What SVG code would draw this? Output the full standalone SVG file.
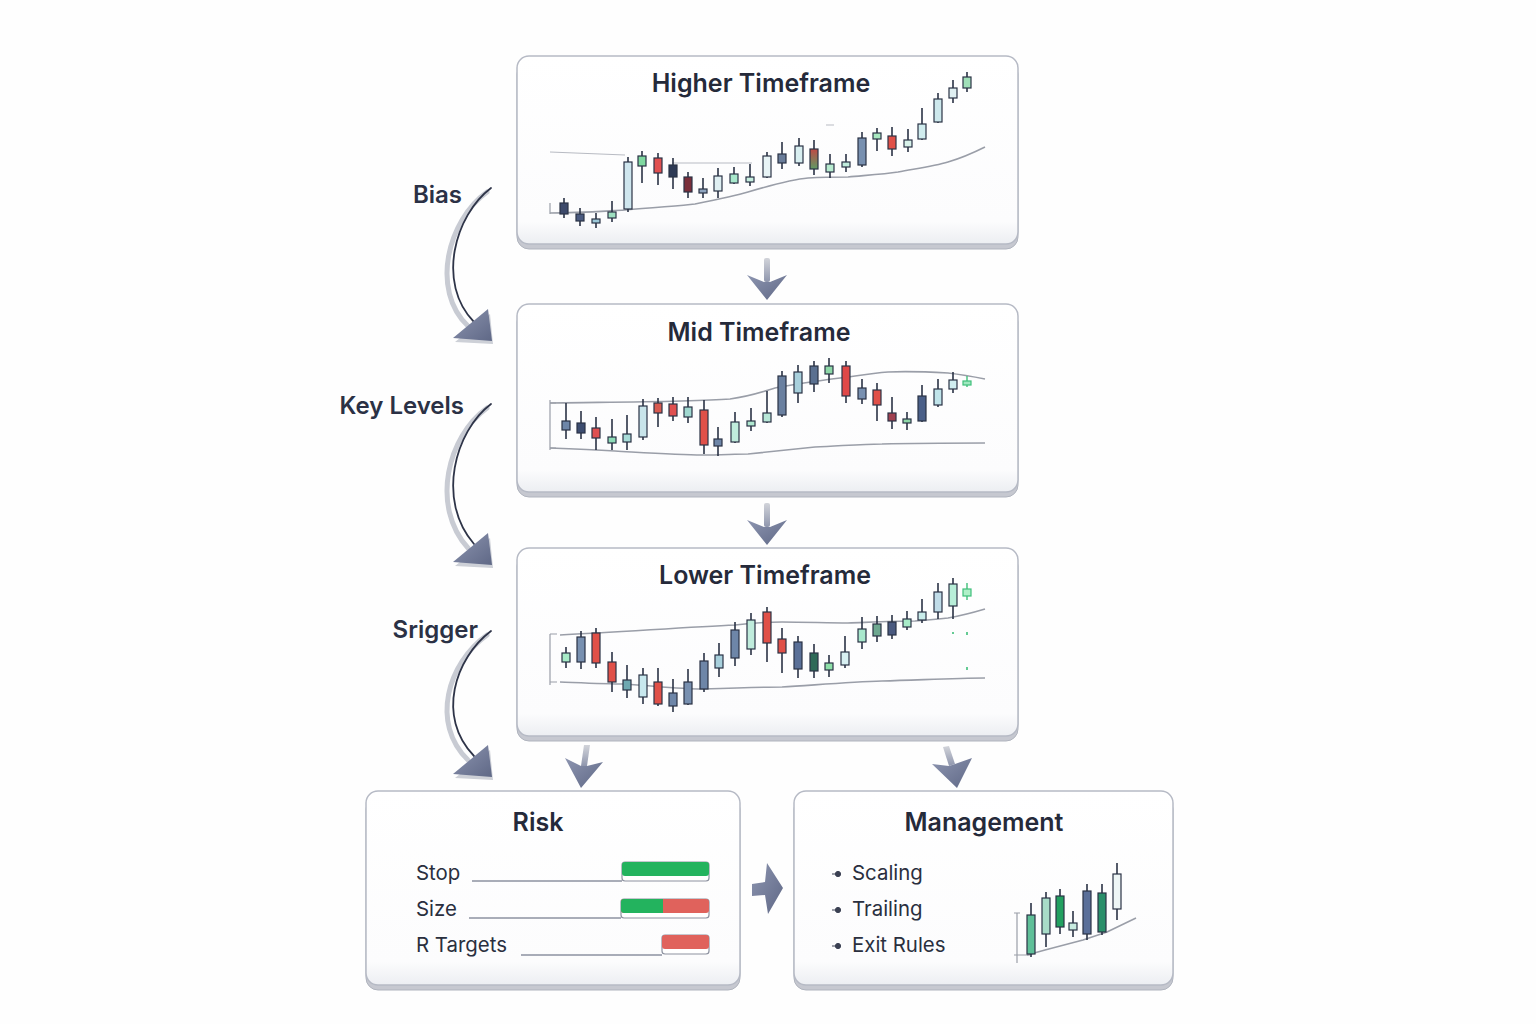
<svg xmlns="http://www.w3.org/2000/svg" width="1536" height="1024" viewBox="0 0 1536 1024">
<defs>
<linearGradient id="pg" x1="0" y1="0" x2="0" y2="1"><stop offset="0" stop-color="#ffffff"/><stop offset="0.88" stop-color="#fcfcfd"/><stop offset="1" stop-color="#eceef2"/></linearGradient>
<linearGradient id="ag" x1="0" y1="0" x2="1" y2="1"><stop offset="0" stop-color="#8d95b0"/><stop offset="1" stop-color="#5f6886"/></linearGradient>
<linearGradient id="sg" x1="0" y1="0" x2="0" y2="1"><stop offset="0" stop-color="#d2d4da"/><stop offset="1" stop-color="#8f96ad"/></linearGradient>
<linearGradient id="mix" x1="0" y1="0" x2="0" y2="1"><stop offset="0" stop-color="#c04a45"/><stop offset="1" stop-color="#5f9a64"/></linearGradient>
</defs>
<style>
.ledge{fill:#c6c8d0;stroke:#b0b4be;stroke-width:1}
.card{fill:url(#pg);stroke:#b6bac5;stroke-width:1.5}
.title{font-family:Inter,"Open Sans","Liberation Sans",sans-serif;font-weight:600;font-size:25px;fill:#252a3a;text-anchor:middle}
.lbl{font-family:Inter,"Open Sans","Liberation Sans",sans-serif;font-weight:600;font-size:24px;fill:#2b3145;text-anchor:end}
.row{font-family:Inter,"Open Sans","Liberation Sans",sans-serif;font-size:20.4px;fill:#2a2f3e}
.w{stroke:#2a3245;stroke-width:1.6;fill:none}
.b{stroke:#2a3245;stroke-width:1.2}
.ma{fill:none;stroke:#9a9ea8;stroke-width:1.6}
.gd{fill:none;stroke:#b8bbc3;stroke-width:1}
.ax{fill:none;stroke:#9a9ea8;stroke-width:1.2}
.trk{fill:#fff;stroke:#8d92a0;stroke-width:1.2}
.tl{stroke:#8d92a0;stroke-width:1.4}
.rib{fill:none;stroke:#c8cbd3;stroke-width:5;stroke-linecap:round}
.cur{fill:none;stroke:#2e3448;stroke-width:1.8;stroke-linecap:round}
.head{fill:url(#ag)}
.hsh{fill:#cdd0d7}
.shaft{fill:url(#sg)}
</style>
<rect width="1536" height="1024" fill="#fefefe"/>

<g id="higher-timeframe">
<rect class="ledge" x="517" y="62" width="501" height="187" rx="12"/>
<rect class="card" x="517" y="56" width="501" height="188" rx="12"/>
<text class="title" x="761" y="92">Higher Timeframe</text>
<path class="gd" d="M550 152 L625 155 M672 163 L752 163 M826 125 L834 125"/>
<path class="ax" d="M550 203 V214"/>
<path class="ma" d="M550 213 C580 213 605 211 625 210 C655 207 680 206 695 204 C720 199 735 196 748 192 C775 184 795 179 808 178 C825 177 838 177 848 177 C870 175 885 174 898 172 C920 168 935 166 948 162 C965 157 975 152 985 147"/>
<g>
<path class="w" d="M564 198V218"/><rect class="b" x="560" y="203" width="8" height="11" fill="#3d4a6b"/>
<path class="w" d="M580 208V226"/><rect class="b" x="576" y="214" width="8" height="7" fill="#4a5a80"/>
<path class="w" d="M596 213V228"/><rect class="b" x="592" y="219" width="8" height="4" fill="#9cc8d8"/>
<path class="w" d="M612 201V222"/><rect class="b" x="608" y="212" width="8" height="6" fill="#9ee0c0"/>
<path class="w" d="M628 157V212"/><rect class="b" x="624" y="162" width="8" height="47" fill="#cfe6ee"/>
<path class="w" d="M642 151V183"/><rect class="b" x="638" y="156" width="8" height="10" fill="#7fd8a0"/>
<path class="w" d="M658 153V185"/><rect class="b" x="654" y="158" width="8" height="15" fill="#e05050"/>
<path class="w" d="M673 158V189"/><rect class="b" x="669" y="165" width="8" height="12" fill="#2e3a55"/>
<path class="w" d="M688 172V198"/><rect class="b" x="684" y="177" width="8" height="15" fill="#7a2e3a"/>
<path class="w" d="M703 178V198"/><rect class="b" x="699" y="189" width="8" height="4" fill="#8fa5c0"/>
<path class="w" d="M718 168V198"/><rect class="b" x="714" y="176" width="8" height="15" fill="#dfeff2"/>
<path class="w" d="M734 167V184"/><rect class="b" x="730" y="174" width="8" height="9" fill="#a8e8cc"/>
<path class="w" d="M750 164V186"/><rect class="b" x="746" y="177" width="8" height="5" fill="#c8efe0"/>
<path class="w" d="M767 152V178"/><rect class="b" x="763" y="156" width="8" height="21" fill="#e8f4f6"/>
<path class="w" d="M782 142V169"/><rect class="b" x="778" y="154" width="8" height="9" fill="#6a7d9a"/>
<path class="w" d="M799 138V166"/><rect class="b" x="795" y="146" width="8" height="17" fill="#d8eef0"/>
<path class="w" d="M814 140V175"/><rect class="b" x="810" y="149" width="8" height="20" fill="url(#mix)"/>
<path class="w" d="M830 154V178"/><rect class="b" x="826" y="164" width="8" height="8" fill="#b8ecd0"/>
<path class="w" d="M846 154V172"/><rect class="b" x="842" y="162" width="8" height="5" fill="#c0ecdc"/>
<path class="w" d="M862 132V167"/><rect class="b" x="858" y="138" width="8" height="27" fill="#7890b0"/>
<path class="w" d="M877 128V151"/><rect class="b" x="873" y="133" width="8" height="6" fill="#a8e8c0"/>
<path class="w" d="M892 127V156"/><rect class="b" x="888" y="136" width="8" height="13" fill="#e05048"/>
<path class="w" d="M908 129V152"/><rect class="b" x="904" y="140" width="8" height="7" fill="#d8f2ea"/>
<path class="w" d="M922 108V140"/><rect class="b" x="918" y="124" width="8" height="15" fill="#d0ecee"/>
<path class="w" d="M938 93V123"/><rect class="b" x="934" y="99" width="8" height="23" fill="#cde8ec"/>
<path class="w" d="M953 80V103"/><rect class="b" x="949" y="88" width="8" height="10" fill="#e0f0f2"/>
<path class="w" d="M967 72V92"/><rect class="b" x="963" y="77" width="8" height="11" fill="#a0e0b8"/>
</g>
</g>

<g id="mid-timeframe">
<rect class="ledge" x="517" y="310" width="501" height="187" rx="12"/>
<rect class="card" x="517" y="304" width="501" height="188" rx="12"/>
<text class="title" x="759" y="341">Mid Timeframe</text>
<path class="ma" d="M550 403 C620 402 690 402 730 399 C752 396 765 391 775 388 C800 383 825 380 848 377 C862 375 875 373 888 372 C910 371 930 372 948 373 C965 375 975 377 985 379"/>
<path class="ma" d="M550 448 C580 449 600 450 615 451 C650 453 680 455 702 455 C720 455 735 454 748 454 C775 451 795 449 815 447 C840 446 862 444 882 444 C920 443 955 443 985 443"/>
<path class="ax" d="M550 400 V450 M550 403 H556 M550 448 H556"/>
<g>
<path class="w" d="M566 403V439"/><rect class="b" x="562" y="421" width="8" height="9" fill="#6e86a8"/>
<path class="w" d="M581 411V439"/><rect class="b" x="577" y="423" width="8" height="10" fill="#3d4d70"/>
<path class="w" d="M596 417V450"/><rect class="b" x="592" y="428" width="8" height="10" fill="#e05050"/>
<path class="w" d="M612 419V450"/><rect class="b" x="608" y="437" width="8" height="6" fill="#8edcb8"/>
<path class="w" d="M627 415V450"/><rect class="b" x="623" y="434" width="8" height="8" fill="#a8dcd8"/>
<path class="w" d="M643 399V440"/><rect class="b" x="639" y="406" width="8" height="31" fill="#c8e4ea"/>
<path class="w" d="M658 398V427"/><rect class="b" x="654" y="403" width="8" height="10" fill="#d85a50"/>
<path class="w" d="M673 397V421"/><rect class="b" x="669" y="404" width="8" height="12" fill="#e05050"/>
<path class="w" d="M688 397V423"/><rect class="b" x="684" y="407" width="8" height="10" fill="#a0d8d0"/>
<path class="w" d="M704 400V454"/><rect class="b" x="700" y="410" width="8" height="35" fill="#e05048"/>
<path class="w" d="M718 427V456"/><rect class="b" x="714" y="439" width="8" height="7" fill="#6e86a8"/>
<path class="w" d="M735 412V443"/><rect class="b" x="731" y="422" width="8" height="20" fill="#c0ecdc"/>
<path class="w" d="M751 408V431"/><rect class="b" x="747" y="421" width="8" height="5" fill="#b0e8d0"/>
<path class="w" d="M767 391V423"/><rect class="b" x="763" y="413" width="8" height="9" fill="#b8e8d8"/>
<path class="w" d="M782 371V417"/><rect class="b" x="778" y="376" width="8" height="39" fill="#6a80a0"/>
<path class="w" d="M798 365V403"/><rect class="b" x="794" y="372" width="8" height="21" fill="#a8d0dc"/>
<path class="w" d="M814 361V392"/><rect class="b" x="810" y="366" width="8" height="18" fill="#5a7090"/>
<path class="w" d="M829 358V383"/><rect class="b" x="825" y="366" width="8" height="8" fill="#8ed8a8"/>
<path class="w" d="M846 361V403"/><rect class="b" x="842" y="366" width="8" height="30" fill="#e04848"/>
<path class="w" d="M862 379V404"/><rect class="b" x="858" y="388" width="8" height="11" fill="#7890b0"/>
<path class="w" d="M877 383V421"/><rect class="b" x="873" y="390" width="8" height="15" fill="#e05048"/>
<path class="w" d="M892 397V429"/><rect class="b" x="888" y="413" width="8" height="8" fill="#a04050"/>
<path class="w" d="M907 412V430"/><rect class="b" x="903" y="419" width="8" height="4" fill="#8ed8a8"/>
<path class="w" d="M922 385V422"/><rect class="b" x="918" y="396" width="8" height="25" fill="#4a5f88"/>
<path class="w" d="M938 379V407"/><rect class="b" x="934" y="389" width="8" height="16" fill="#c0e4ea"/>
<path class="w" d="M953 372V393"/><rect class="b" x="949" y="380" width="8" height="9" fill="#d0eef0"/>
<path d="M967 376V387" stroke="#3fbf7a" stroke-width="1.4"/><rect x="963" y="381" width="8" height="4" fill="#a0e8c0" stroke="#3fbf7a" stroke-width="1.2"/>
</g>
</g>

<g id="lower-timeframe">
<rect class="ledge" x="517" y="554" width="501" height="187" rx="12"/>
<rect class="card" x="517" y="548" width="501" height="188" rx="12"/>
<text class="title" x="765" y="584">Lower Timeframe</text>
<path class="ma" d="M560 635 C620 632 690 627 735 625 C752 623 768 622 782 622 C805 622 828 623 848 623 C875 622 895 621 915 621 C930 620 940 619 948 618 C965 615 975 612 985 609"/>
<path class="ma" d="M560 682 C585 683 605 684 625 684 C655 686 680 689 702 689 C730 688 760 687 782 687 C815 685 850 682 882 681 C920 680 955 678 985 678"/>
<path class="ax" d="M550 634 V685 M550 634 H557 M550 682 H557"/>
<g>
<path class="w" d="M566 647V668"/><rect class="b" x="562" y="653" width="8" height="9" fill="#a8ecc8"/>
<path class="w" d="M581 631V669"/><rect class="b" x="577" y="637" width="8" height="25" fill="#7890b0"/>
<path class="w" d="M596 628V668"/><rect class="b" x="592" y="633" width="8" height="30" fill="#e05048"/>
<path class="w" d="M612 652V692"/><rect class="b" x="608" y="662" width="8" height="20" fill="#e05048"/>
<path class="w" d="M627 665V698"/><rect class="b" x="623" y="680" width="8" height="10" fill="#6ea8b0"/>
<path class="w" d="M643 668V704"/><rect class="b" x="639" y="675" width="8" height="22" fill="#c8e8ee"/>
<path class="w" d="M658 668V706"/><rect class="b" x="654" y="682" width="8" height="22" fill="#e05048"/>
<path class="w" d="M673 679V712"/><rect class="b" x="669" y="693" width="8" height="13" fill="#6e86a8"/>
<path class="w" d="M688 669V705"/><rect class="b" x="684" y="682" width="8" height="22" fill="#7890b0"/>
<path class="w" d="M704 653V692"/><rect class="b" x="700" y="661" width="8" height="28" fill="#6e86a8"/>
<path class="w" d="M719 643V677"/><rect class="b" x="715" y="655" width="8" height="13" fill="#a8d0dc"/>
<path class="w" d="M735 622V666"/><rect class="b" x="731" y="630" width="8" height="28" fill="#6e86a8"/>
<path class="w" d="M751 613V655"/><rect class="b" x="747" y="620" width="8" height="29" fill="#c0ecdc"/>
<path class="w" d="M767 607V662"/><rect class="b" x="763" y="612" width="8" height="31" fill="#e05048"/>
<path class="w" d="M782 628V673"/><rect class="b" x="778" y="639" width="8" height="14" fill="#e05048"/>
<path class="w" d="M798 636V678"/><rect class="b" x="794" y="642" width="8" height="27" fill="#5a7098"/>
<path class="w" d="M814 644V678"/><rect class="b" x="810" y="653" width="8" height="18" fill="#2e6a58"/>
<path class="w" d="M829 655V677"/><rect class="b" x="825" y="663" width="8" height="7" fill="#8ee0a8"/>
<path class="w" d="M845 636V668"/><rect class="b" x="841" y="652" width="8" height="13" fill="#d8f0f2"/>
<path class="w" d="M862 617V649"/><rect class="b" x="858" y="629" width="8" height="13" fill="#a8e8cc"/>
<path class="w" d="M877 616V642"/><rect class="b" x="873" y="624" width="8" height="12" fill="#6ea890"/>
<path class="w" d="M892 615V639"/><rect class="b" x="888" y="622" width="8" height="13" fill="#4a5a80"/>
<path class="w" d="M907 611V630"/><rect class="b" x="903" y="619" width="8" height="8" fill="#a8ecc8"/>
<path class="w" d="M922 599V623"/><rect class="b" x="918" y="612" width="8" height="8" fill="#c8ecea"/>
<path class="w" d="M938 583V619"/><rect class="b" x="934" y="592" width="8" height="20" fill="#c0dce8"/>
<path class="w" d="M953 578V619"/><rect class="b" x="949" y="584" width="8" height="22" fill="#b8eed8"/>
<path d="M967 583V600" stroke="#3fbf7a" stroke-width="1.4"/><rect x="963" y="589" width="8" height="7" fill="#b0f0c8" stroke="#3fbf7a" stroke-width="1.2"/>
<path d="M953 632v2 M967 632v3 M967 667v3" stroke="#3fbf7a" stroke-width="1.6"/>
</g>
</g>

<g id="risk">
<rect class="ledge" x="366" y="797" width="374" height="193" rx="12"/>
<rect class="card" x="366" y="791" width="374" height="194" rx="12"/>
<text class="title" x="538" y="831">Risk</text>
<text class="row" x="416" y="880">Stop</text>
<path class="tl" d="M472 881H622"/>
<rect class="trk" x="622" y="862" width="87" height="19" rx="3"/>
<rect x="622" y="862" width="87" height="14" rx="3" fill="#23b35e"/>
<text class="row" x="416" y="916">Size</text>
<path class="tl" d="M469 918H621"/>
<rect class="trk" x="621" y="899" width="88" height="19" rx="3"/>
<rect x="621" y="899" width="88" height="14" rx="3" fill="#e0625c"/>
<path d="M624 899H663V913H624A3 3 0 0 1 621 910V902A3 3 0 0 1 624 899Z" fill="#23b35e"/>
<text class="row" x="416" y="952">R Targets</text>
<path class="tl" d="M521 955H662"/>
<rect class="trk" x="662" y="935" width="47" height="19" rx="3"/>
<rect x="662" y="935" width="47" height="14" rx="3" fill="#e0625c"/>
</g>

<g id="management">
<rect class="ledge" x="794" y="797" width="379" height="193" rx="12"/>
<rect class="card" x="794" y="791" width="379" height="194" rx="12"/>
<text class="title" x="984" y="831">Management</text>
<g fill="#3a4052" stroke="#3a4052" stroke-width="1">
<circle cx="838" cy="874" r="2.6"/><path d="M832 874H835"/>
<circle cx="838" cy="910" r="2.6"/><path d="M832 910H835"/>
<circle cx="838" cy="946" r="2.6"/><path d="M832 946H835"/>
</g>
<text class="row" x="852" y="880">Scaling</text>
<text class="row" x="852" y="916">Trailing</text>
<text class="row" x="852" y="952">Exit Rules</text>
<path class="ax" d="M1017 913V963 M1014 913H1020 M1014 955H1030"/>
<path class="ma" d="M1027 955 L1045 950 L1083 940 L1107 932 L1136 918"/>
<path class="w" d="M1031 903V957"/><rect class="b" x="1027" y="915" width="8" height="39" fill="#5fbf98"/>
<path class="w" d="M1046 892V947"/><rect class="b" x="1042" y="898" width="8" height="36" fill="#a8dcc8"/>
<path class="w" d="M1060 889V934"/><rect class="b" x="1056" y="896" width="8" height="31" fill="#22a060"/>
<path class="w" d="M1073 911V937"/><rect class="b" x="1069" y="923" width="8" height="7" fill="#c8ece0"/>
<path class="w" d="M1087 884V940"/><rect class="b" x="1083" y="891" width="8" height="43" fill="#5a6f99"/>
<path class="w" d="M1102 884V935"/><rect class="b" x="1098" y="893" width="8" height="39" fill="#2a8f6a"/>
<path class="w" d="M1117 863V920"/><rect class="b" x="1113" y="874" width="8" height="35" fill="#eef6f6"/>
</g>

<g id="labels">
<text class="lbl" x="462" y="203">Bias</text>
<text class="lbl" x="464" y="414">Key Levels</text>
<text class="lbl" x="478" y="638">Srigger</text>
</g>

<g id="connectors">
<g id="curve-bias">
<path class="rib" d="M487 192 C448 220 430 290 468 326"/>
<path class="cur" d="M491 188 C455 215 436 283 474 322"/>
<polygon class="hsh" points="455,342 490,314 493,344"/>
<polygon class="head" points="453,338 488,309 492,341"/>
</g>
<g id="curve-key">
<path class="rib" d="M487 408 C448 436 430 506 468 548"/>
<path class="cur" d="M491 404 C455 431 436 500 474 544"/>
<polygon class="hsh" points="455,566 490,538 493,568"/>
<polygon class="head" points="453,562 488,533 492,565"/>
</g>
<g id="curve-trigger">
<path class="rib" d="M487 635 C448 663 430 723 468 760"/>
<path class="cur" d="M491 631 C455 658 436 717 474 756"/>
<polygon class="hsh" points="455,778 490,750 493,780"/>
<polygon class="head" points="453,774 488,745 492,777"/>
</g>
<g id="down-1">
<rect class="shaft" x="764" y="258" width="6" height="24" rx="2"/>
<polygon class="head" points="747,275 764,282 770,282 787,275 767,300"/>
</g>
<g id="down-2">
<rect class="shaft" x="764" y="503" width="6" height="24" rx="2"/>
<polygon class="head" points="747,520 764,527 770,527 787,520 767,545"/>
</g>
<g id="down-risk">
<path d="M584 745 L581 766 L587 766 L590 745 Z" fill="url(#sg)"/>
<polygon class="head" points="565,758 581,766 587,766 603,762 581,788"/>
</g>
<g id="down-mgmt">
<path d="M943 747 L949 766 L955 764 L949 746 Z" fill="url(#sg)"/>
<polygon class="head" points="932,764 949,766 955,764 972,758 957,788"/>
</g>
<g id="right-arrow">
<polygon class="head" points="752,884 765,882 767,863 783,888 768,914 765,895 752,896"/>
</g>
</g>
</svg>
